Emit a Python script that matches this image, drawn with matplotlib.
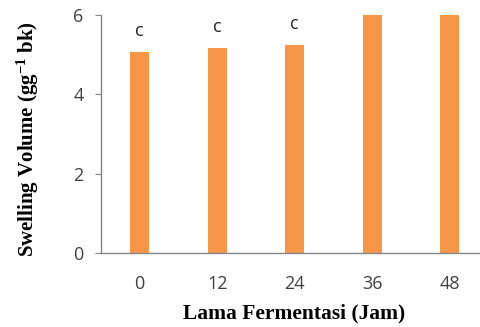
import matplotlib
matplotlib.use("Agg")
import matplotlib.pyplot as plt
import numpy as np

# data (last two bars run past the axis top)
hours = ["0", "12", "24", "36", "48"]
swelling = [5.08, 5.16, 5.24, 6.0, 6.0]
letters = ["c", "c", "c", "", ""]

BAR_COLOR = "#F79646"
AXIS_GRAY = "#868686"
TEXT_GRAY = "#404040"

plt.rcParams["mathtext.fontset"] = "custom"
plt.rcParams["mathtext.rm"] = "Liberation Serif:bold"
plt.rcParams["mathtext.it"] = "Liberation Serif:bold"
plt.rcParams["mathtext.bf"] = "Liberation Serif:bold"

fig = plt.figure(figsize=(4.81, 3.27), dpi=100)
ax = fig.add_axes([0.21, 0.226, 0.805, 0.728])

x = np.arange(len(hours))
ax.bar(x, swelling, width=0.245, color=BAR_COLOR)

for xi, val, lab in zip(x, swelling, letters):
    if lab:
        ax.text(xi, val + 0.53, lab, ha="center", va="center",
                fontsize=13, family="Open Sans", color="#222222")

ax.set_xlim(-0.5, 4.5)
ax.set_ylim(0, 6)
ax.set_yticks([0, 2, 4, 6])
ax.set_xticks(x)
ax.set_xticklabels(hours)

for side in ["top", "right"]:
    ax.spines[side].set_visible(False)
for side in ["left", "bottom"]:
    ax.spines[side].set_color(AXIS_GRAY)
    ax.spines[side].set_linewidth(1.0)

ax.tick_params(axis="y", direction="out", length=4.5, color=AXIS_GRAY,
               labelsize=13, labelcolor=TEXT_GRAY, pad=8)
ax.tick_params(axis="x", length=0, labelsize=13, labelcolor=TEXT_GRAY, pad=16)
for lab in ax.get_xticklabels() + ax.get_yticklabels():
    lab.set_family("Open Sans")

ax.set_xlabel("Lama Fermentasi (Jam)", family="Liberation Serif",
              fontweight="bold", fontsize=15.5)
ax.set_ylabel("Swelling Volume (gg$^{-1}$ bk)", family="Liberation Serif",
              fontweight="bold", fontsize=15)
ax.xaxis.set_label_coords(0.5, -0.21)
ax.yaxis.set_label_coords(-0.155, 0.48)

fig.savefig("out.png", dpi=100)
